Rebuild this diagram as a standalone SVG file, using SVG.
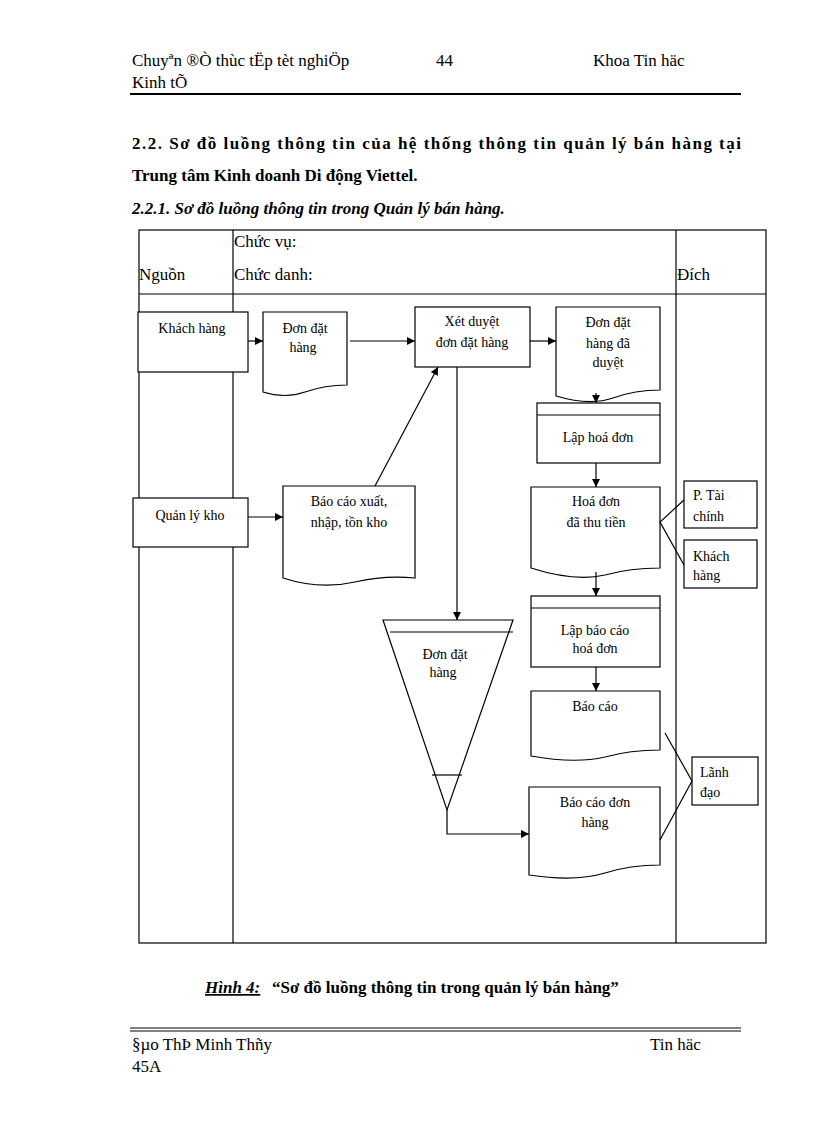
<svg xmlns="http://www.w3.org/2000/svg" width="816" height="1123" viewBox="0 0 816 1123">
<defs>
<marker id="ah" markerWidth="8" markerHeight="8" refX="8" refY="4" orient="auto" markerUnits="userSpaceOnUse"><path d="M0,0 L8,4 L0,8 z" fill="#000"/></marker>
<style>
text{font-family:"Liberation Serif","Times New Roman",serif;fill:#000}
.h{font-size:17px}
.n{font-size:14px;text-anchor:middle}
.t{font-size:14px}
.s{fill:#fff;stroke:#000;stroke-width:1.2}
.l{fill:none;stroke:#000;stroke-width:1.2}
.c{fill:none;stroke:#000;stroke-width:1.2;marker-end:url(#ah)}
</style>
</defs>
<rect width="816" height="1123" fill="#fff"/>
<text class="h" x="132" y="66">Chuyªn ®Ò thùc tËp tèt nghiÖp</text>
<text class="h" x="436" y="66">44</text>
<text class="h" x="593" y="66">Khoa Tin häc</text>
<text class="h" x="132" y="88">Kinh tÕ</text>
<line x1="130" y1="94" x2="741" y2="94" stroke="#000" stroke-width="2"/>
<text x="132" y="149" font-size="17" font-weight="bold" textLength="609" lengthAdjust="spacing">2.2. Sơ đồ luồng thông tin của hệ thống thông tin quản lý bán hàng tại</text>
<text x="132" y="181" font-size="17" font-weight="bold">Trung tâm Kinh doanh Di động Viettel.</text>
<text x="132" y="214" font-size="17" font-weight="bold" font-style="italic">2.2.1. Sơ đồ luồng thông tin trong Quản lý bán hàng.</text>
<g id="table">
<rect class="l" x="139" y="230" width="627" height="713"/>
<line class="l" x1="233" y1="230" x2="233" y2="943"/>
<line class="l" x1="676" y1="230" x2="676" y2="943"/>
<line class="l" x1="139" y1="294" x2="766" y2="294"/>
<text class="h" x="234" y="247">Chức vụ:</text>
<text class="h" x="139" y="280">Nguồn</text>
<text class="h" x="234" y="280">Chức danh:</text>
<text class="h" x="677" y="280">Đích</text>
</g>
<g id="n-khachhang"><rect class="s" x="138" y="312" width="110" height="60"/><text class="n" x="192" y="333">Khách hàng</text></g>
<g id="n-dondathang"><path class="s" d="M263,312 H347 V385 Q325,385 305,392 Q285,399 263,392 Z"/><text class="n" x="305" y="333">Đơn đặt</text><text class="n" x="303" y="352">hàng</text></g>
<g id="n-xetduyet"><rect class="s" x="415" y="307" width="115" height="60"/><text class="n" x="472" y="326">Xét duyệt</text><text class="n" x="472" y="347">đơn đặt hàng</text></g>
<g id="n-dondaduyet"><path class="s" d="M556,307 H660 V390 Q635,390 613,398 Q590,406 556,396 Z"/><text class="n" x="608" y="327">Đơn đặt</text><text class="n" x="608" y="348">hàng đã</text><text class="n" x="608" y="367">duyệt</text></g>
<g id="n-laphoadon"><rect class="s" x="537" y="403" width="123" height="60"/><line class="l" x1="537" y1="415" x2="660" y2="415"/><text class="n" x="598" y="442">Lập hoá đơn</text></g>
<g id="n-hoadon"><path class="s" d="M531,487 H660 V568 Q630,568 605,575 Q575,582 531,568 Z"/><text class="n" x="596" y="506">Hoá đơn</text><text class="n" x="596" y="527">đã thu tiền</text></g>
<g id="n-lapbaocao"><rect class="s" x="531" y="596" width="129" height="71"/><line class="l" x1="531" y1="608" x2="660" y2="608"/><text class="n" x="595" y="635">Lập báo cáo</text><text class="n" x="595" y="653">hoá đơn</text></g>
<g id="n-baocao"><path class="s" d="M531,691 H660 V750 Q630,750 605,757 Q575,764 531,756 Z"/><text class="n" x="595" y="711">Báo cáo</text></g>
<g id="n-baocaodonhang"><path class="s" d="M529,787 H660 V865 Q630,865 605,873 Q575,882 529,875 Z"/><text class="n" x="595" y="807">Báo cáo đơn</text><text class="n" x="595" y="827">hàng</text></g>
<g id="n-quanlykho"><rect class="s" x="133" y="498" width="115" height="49"/><text class="n" x="190" y="520">Quản lý kho</text></g>
<g id="n-baocaoxuat"><path class="s" d="M283,486 H415 V578 Q385,575 355,582 Q320,590 283,578 Z"/><text class="n" x="349" y="506">Báo cáo xuất,</text><text class="n" x="349" y="527">nhập, tồn kho</text></g>
<g id="n-khodon"><path class="s" d="M383,620 H513 L447,810 Z"/><line class="l" x1="390" y1="632" x2="513" y2="632"/><line class="l" x1="432" y1="775" x2="462" y2="775"/><text class="n" x="445" y="659">Đơn đặt</text><text class="n" x="443" y="677">hàng</text></g>
<g id="n-taichinh"><rect class="s" x="684" y="481" width="73" height="47"/><text class="t" x="693" y="500">P. Tài</text><text class="t" x="693" y="521">chính</text></g>
<g id="n-khachhang2"><rect class="s" x="684" y="540" width="73" height="48"/><text class="t" x="693" y="561">Khách</text><text class="t" x="693" y="580">hàng</text></g>
<g id="n-lanhdao"><rect class="s" x="692" y="757" width="66" height="48"/><text class="t" x="700" y="777">Lãnh</text><text class="t" x="700" y="797">đạo</text></g>
<g id="connectors">
<line class="c" x1="248" y1="341" x2="263" y2="341"/>
<line class="c" x1="350" y1="341" x2="415" y2="341"/>
<line class="c" x1="530" y1="341" x2="556" y2="341"/>
<line class="c" x1="596" y1="393" x2="596" y2="403"/>
<line class="c" x1="596" y1="463" x2="596" y2="487"/>
<line class="c" x1="596" y1="572" x2="596" y2="596"/>
<line class="c" x1="596" y1="667" x2="596" y2="691"/>
<line class="c" x1="248" y1="517" x2="283" y2="517"/>
<line class="c" x1="375" y1="486" x2="438" y2="367"/>
<line class="c" x1="457" y1="367" x2="457" y2="620"/>
<polyline class="c" points="447,810 447,834 529,834"/>
<polyline class="l" points="684,500 660,522 684,565"/>
<polyline class="l" points="665,733 692,781 660,840"/>
</g>
<text x="205" y="993" font-size="17" font-weight="bold" font-style="italic" text-decoration="underline">Hình 4:</text>
<text x="272" y="993" font-size="17" font-weight="bold">“Sơ đồ luồng thông tin trong quản lý bán hàng”</text>
<line x1="130" y1="1028" x2="741" y2="1028" stroke="#000" stroke-width="1"/>
<line x1="130" y1="1031" x2="741" y2="1031" stroke="#000" stroke-width="1"/>
<text class="h" x="132" y="1050">§µo ThÞ Minh Thñy</text>
<text class="h" x="650" y="1050">Tin häc</text>
<text class="h" x="132" y="1072">45A</text>
</svg>
